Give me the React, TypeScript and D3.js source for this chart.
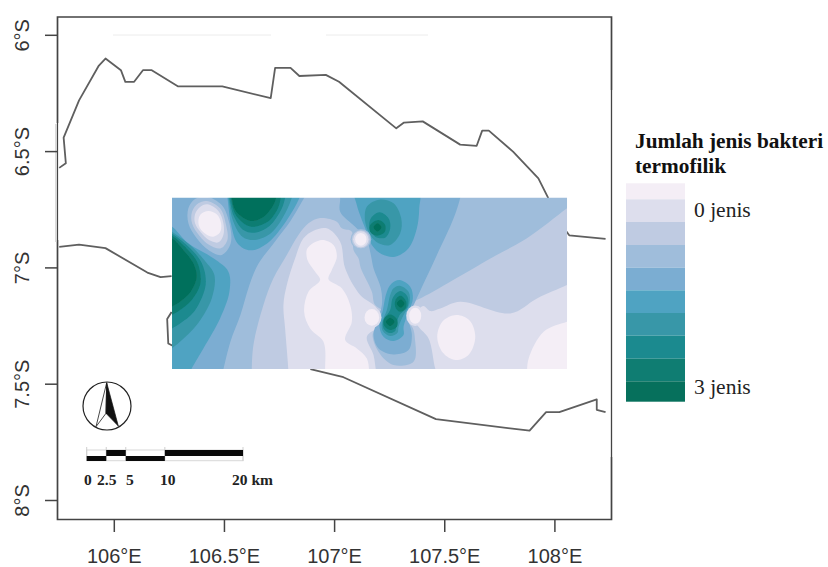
import React from "react";
import * as d3 from "d3";

type P = [number, number];

const lonTicks = [106, 106.5, 107, 107.5, 108];
const lonLabels = ["106°E", "106.5°E", "107°E", "107.5°E", "108°E"];
const latTicks = [6, 6.5, 7, 7.5, 8];
const latLabels = ["6°S", "6.5°S", "7°S", "7.5°S", "8°S"];

const northCoast: P[] = [
  [105.75, 6.57], [105.78, 6.55], [105.77, 6.44], [105.84, 6.28], [105.93, 6.13], [105.96, 6.1],
  [106.03, 6.15], [106.05, 6.2], [106.09, 6.2], [106.13, 6.15], [106.17, 6.15], [106.29, 6.22],
  [106.49, 6.22], [106.71, 6.27], [106.73, 6.14], [106.8, 6.14], [106.84, 6.175], [106.96, 6.17],
  [107.02, 6.2], [107.28, 6.4], [107.315, 6.375], [107.4, 6.37], [107.57, 6.47], [107.645, 6.475],
  [107.67, 6.41], [107.7, 6.41], [107.81, 6.5], [107.925, 6.615], [107.97, 6.7], [108.05, 6.84],
  [108.065, 6.86], [108.23, 6.875],
];
const southCoastWest: P[] = [
  [105.75, 6.91], [105.84, 6.9], [105.96, 6.915], [106.15, 7.02], [106.21, 7.04], [106.26, 7.035],
];
const southBump: P[] = [[106.26, 7.19], [106.24, 7.22], [106.245, 7.325], [106.265, 7.335]];
const southCoastEast: P[] = [
  [106.89, 7.435], [107.04, 7.47], [107.46, 7.65], [107.885, 7.7], [107.96, 7.62], [108.02, 7.62],
  [108.19, 7.565], [108.19, 7.61], [108.23, 7.62],
];

// The interpolated map is a raster of 1184 x 514 cells covering this lon/lat box.
const gridLon = [106.262, 108.055];
const gridLat = [6.698, 7.435];
const gridCols = 1184;
const gridRows = 514;

const bandColors = [
  "#f4eef6", "#dddeed", "#bfcbe2", "#9fbddb", "#7badd2",
  "#4fa3c2", "#3897a8", "#1b8a8f", "#0f7d72", "#06705c",
];

// Isolines, in grid cells. Each one bounds a patch of one colour band.
const pale2: P[] = [
  [239, 540], [239, 522], [244, 442], [274, 322], [304, 242], [344, 172], [379, 112], [409, 77], [444, 61], [494, 72],
  [509, 92], [539, 102], [544, 157], [559, 182], [566, 212], [599, 282], [609, 322], [650, 340], [734, 307], [764, 292],
  [964, 177], [1064, 122], [1184, 32], [1230, 0], [1230, 540],
];
const pale1West: P[] = [
  [349, 540], [349, 522], [339, 392], [334, 322], [344, 262], [369, 182], [394, 122], [424, 99], [464, 92], [504, 132],
  [519, 212], [564, 292], [614, 332], [622, 380], [584, 417], [604, 472], [614, 530], [620, 540],
];
const pale1East: P[] = [
  [800, 540], [789, 512], [769, 422], [739, 387], [725, 362], [740, 335], [754, 325], [774, 340], [804, 332], [864, 312],
  [1014, 347], [1094, 302], [1184, 262], [1230, 240], [1230, 540],
];
const pale0Centre: P[] = [
  [449, 127], [484, 142], [494, 177], [479, 217], [469, 245], [509, 272], [534, 322], [539, 372], [519, 427], [554, 452],
  [584, 482], [592, 530], [594, 540], [459, 540], [459, 514], [454, 432], [414, 392], [396, 342], [409, 282], [444, 247],
  [429, 222], [406, 187], [406, 152],
];
const pale0East: P[] = [
  [852, 352], [892, 368], [909, 417], [890, 470], [850, 487], [812, 465], [795, 417], [812, 370],
];
const pale0Corner: P[] = [[1230, 358], [1184, 372], [1114, 402], [1069, 482], [1064, 530], [1064, 545], [1230, 545]];
const knotRing3: P[] = [[604, 402], [619, 462], [664, 502], [724, 492], [729, 432], [714, 382]];
const blue4West: P[] = [
  [-30, -30], [400, -30], [400, -10], [385, 20], [355, 70], [310, 130], [258, 200], [232, 262], [205, 352], [175, 432],
  [150, 530], [145, 545], [-30, 545],
];
const blue4Wedge: P[] = [
  [499, -28], [504, 2], [504, 42], [549, 87], [582, 122], [596, 172], [604, 212], [626, 272], [629, 322], [614, 372],
  [604, 412], [619, 452], [664, 470], [709, 457], [719, 412], [709, 357], [729, 312], [794, 172], [844, 62], [864, 0],
  [869, -28],
];
const westDark: P[][] = [
  [[-20, 80], [0, 87], [49, 137], [124, 182], [169, 222], [172, 282], [144, 362], [94, 452], [59, 512], [50, 530], [-20, 530]],
  [[-20, 90], [0, 102], [54, 142], [99, 190], [127, 232], [119, 302], [74, 382], [24, 432], [0, 452], [-20, 470]],
  [[-20, 100], [0, 108], [44, 142], [84, 187], [99, 227], [99, 272], [66, 342], [24, 377], [0, 392], [-20, 405]],
  [[-20, 108], [0, 114], [39, 147], [72, 187], [84, 222], [84, 262], [59, 307], [24, 337], [0, 352], [-20, 365]],
  [[-20, 118], [0, 122], [34, 157], [64, 197], [74, 237], [56, 282], [24, 312], [0, 327], [-20, 340]],
];
const northDark: P[][] = [
  [[162, -20], [166, 0], [177, 80], [197, 138], [235, 158], [284, 138], [334, 82], [382, 0], [386, -20]],
  [[165, -20], [169, 0], [183, 70], [212, 118], [248, 127], [298, 105], [340, 45], [359, 0], [363, -20]],
  [[168, -20], [172, 0], [185, 55], [215, 98], [248, 105], [292, 85], [328, 35], [339, 0], [343, -20]],
  [[172, -20], [176, 0], [190, 50], [222, 82], [248, 87], [290, 70], [318, 30], [326, 0], [330, -20]],
  [[175, -20], [179, 0], [189, 37], [219, 64], [244, 70], [279, 54], [304, 22], [312, 0], [315, -20]],
];
const upperDark: P[][] = [
  [[549, -18], [554, 22], [579, 92], [599, 142], [629, 170], [669, 177], [709, 152], [734, 92], [741, 32], [739, -18]],
  [[622, 6], [664, 17], [687, 62], [684, 107], [654, 142], [619, 137], [594, 112], [579, 72], [584, 27]],
  [[622, 44], [649, 62], [654, 92], [639, 120], [609, 117], [592, 92], [596, 62]],
  [[619, 67], [639, 82], [637, 104], [614, 114], [594, 102], [594, 82]],
  [[616, 77], [628, 89], [616, 102], [604, 89]],
];
const knotDark5: P[] = [
  [682, 247], [714, 267], [722, 302], [709, 342], [694, 387], [694, 412], [664, 430], [634, 417], [622, 387], [632, 337],
  [644, 282], [659, 257],
];
const knotDark6: P[] = [
  [682, 264], [709, 282], [712, 317], [694, 352], [679, 387], [676, 405], [654, 415], [632, 400], [629, 377], [644, 337],
  [654, 292], [664, 272],
];
const knotDark7: P[] = [
  [684, 280], [706, 297], [706, 327], [682, 352], [672, 382], [669, 400], [652, 406], [634, 392], [634, 367], [654, 337],
  [662, 300],
];
const knotDark8North: P[] = [[686, 294], [702, 312], [699, 334], [682, 342], [669, 327], [671, 304]];
const knotDark8South: P[] = [[654, 350], [674, 364], [674, 387], [654, 397], [636, 384], [636, 362]];
const knotDark9North: P[] = [[686, 305], [697, 317], [686, 330], [674, 317]];
const knotDark9South: P[] = [[654, 360], [667, 372], [654, 385], [641, 372]];
const haloRings: P[][] = [
  [[104, -3], [149, 22], [172, 77], [176, 137], [149, 172], [109, 157], [74, 122], [49, 77], [49, 32], [69, 4]],
  [[104, 10], [144, 32], [162, 82], [166, 127], [146, 152], [112, 142], [82, 114], [60, 77], [60, 42], [79, 17]],
  [[106, 20], [139, 40], [154, 77], [154, 112], [139, 134], [112, 128], [86, 104], [69, 77], [69, 50], [84, 28]],
  [[109, 40], [134, 50], [147, 77], [144, 104], [124, 117], [102, 110], [84, 92], [79, 70], [86, 50]],
];
const haloBands = [3, 2, 1, 0];

// Small pale sites: grid cell, radius in cells, band
const siteCells: [number, number, number, number, number][] = [
  [566, 125, 31, 31, 3], [566, 125, 27, 27, 2], [566, 125, 23, 24, 1], [566, 125, 17, 19, 0],
  [599, 359, 29, 31, 1], [599, 359, 22, 25, 0],
  [729, 354, 27, 31, 1], [729, 354, 18, 24, 0],
];

const patches: { band: number; ring: P[] }[] = [
  { band: 2, ring: pale2 },
  { band: 1, ring: pale1West },
  { band: 1, ring: pale1East },
  { band: 0, ring: pale0Centre },
  { band: 0, ring: pale0East },
  { band: 0, ring: pale0Corner },
  { band: 3, ring: knotRing3 },
  { band: 4, ring: blue4West },
  { band: 4, ring: blue4Wedge },
  ...westDark.map((ring, i) => ({ band: 5 + i, ring })),
  ...northDark.map((ring, i) => ({ band: 5 + i, ring })),
  ...upperDark.map((ring, i) => ({ band: 5 + i, ring })),
  { band: 5, ring: knotDark5 },
  { band: 6, ring: knotDark6 },
  { band: 7, ring: knotDark7 },
  { band: 8, ring: knotDark8North },
  { band: 8, ring: knotDark8South },
  { band: 9, ring: knotDark9North },
  { band: 9, ring: knotDark9South },
  ...haloRings.map((ring, i) => ({ band: haloBands[i], ring })),
];

const legendEdges = [183.3, 199.3, 222, 245, 267.7, 290.3, 313, 335.7, 358.7, 381.3, 401.7];
const scaleStops = [0, 2.5, 5, 10, 20];
const scaleLabels = ["0", "2.5", "5", "10", "20 km"];
const scaleLabelX = [84, 97, 126, 160, 232];

const W = 828, H = 567;
const x = d3.scaleLinear().domain([106, 108]).range([114.3, 554.9]);
const y = d3.scaleLinear().domain([6, 8]).range([35.3, 500.5]);
const scaleX = d3.scaleLinear().domain([0, 20]).range([86.7, 243]);
const gu = d3.scaleLinear().domain([0, gridCols]).range([x(gridLon[0]), x(gridLon[1])]);
const gv = d3.scaleLinear().domain([0, gridRows]).range([y(gridLat[0]), y(gridLat[1])]);
const line = d3.line<P>().x((d) => x(d[0])).y((d) => y(d[1]));
const ringPath = d3
  .line<P>()
  .x((d) => gu(d[0]))
  .y((d) => gv(d[1]))
  .curve(d3.curveCatmullRomClosed.alpha(0.5));

const SANS = "'Liberation Sans', Arial, sans-serif";
const SERIF = "'Liberation Serif', 'Times New Roman', serif";
const AXIS = "#444";
const COAST = "#5f5f5f";

export default function App() {
  const rx0 = gu(0), rx1 = gu(gridCols), ry0 = gv(0), ry1 = gv(gridRows);
  const ku = (rx1 - rx0) / gridCols, kv = (ry1 - ry0) / gridRows;
  return (
    <svg width={W} height={H} style={{ position: "absolute", left: 0, top: 0, background: "#fff" }}>
      <defs>
        <clipPath id="gridClip">
          <rect x={rx0} y={ry0} width={rx1 - rx0} height={ry1 - ry0} />
        </clipPath>
        <filter id="soft" x="-5%" y="-5%" width="110%" height="110%">
          <feGaussianBlur stdDeviation="0.6" />
        </filter>
      </defs>

      <line x1={113} x2={271} y1={35} y2={35} stroke="#ececec" strokeWidth={1} />
      <line x1={326} x2={428} y1={35} y2={35} stroke="#ececec" strokeWidth={1} />

      <g fill="none" stroke={COAST} strokeWidth={1.8} strokeLinejoin="round">
        <path d={line(northCoast) || ""} />
        <path d={line(southCoastWest) || ""} />
        <path d={line(southBump) || ""} />
        <path d={line(southCoastEast) || ""} />
      </g>

      <g clipPath="url(#gridClip)">
        <g filter="url(#soft)">
          <rect x={rx0 - 4} y={ry0 - 4} width={rx1 - rx0 + 8} height={ry1 - ry0 + 8} fill={bandColors[3]} />
          {patches.map((p, i) => (
            <path key={i} d={ringPath(p.ring) || ""} fill={bandColors[p.band]} />
          ))}
          {siteCells.map((s, i) => (
            <ellipse key={i} cx={gu(s[0])} cy={gv(s[1])} rx={s[2] * ku} ry={s[3] * kv} fill={bandColors[s[4]]} />
          ))}
        </g>
      </g>

      <g fill="none" stroke={AXIS}>
        <path d="M57.5 123V17H611.5V90" strokeWidth={1.7} />
        <path d="M57.5 240V519.5H611.5V457" strokeWidth={1.7} />
        <path d="M611.5 90V457" strokeWidth={1.3} />
        <path d="M57.5 123V240" strokeWidth={1.2} />
        <path d="M56 124V242" stroke="#cfcfcf" strokeWidth={1.5} />
      </g>

      {lonTicks.map((t, i) => (
        <g key={t}>
          <line x1={x(t)} x2={x(t)} y1={519.5} y2={532} stroke={AXIS} strokeWidth={1.5} />
          <text x={x(t)} y={562.8} textAnchor="middle" fontFamily={SANS} fontSize={20} fill="#333">
            {lonLabels[i]}
          </text>
        </g>
      ))}
      {latTicks.map((t, i) => (
        <g key={t}>
          <line x1={45} x2={57} y1={y(t)} y2={y(t)} stroke={AXIS} strokeWidth={1.5} />
          <text
            transform={`translate(29,${y(t)}) rotate(-90)`}
            textAnchor="middle"
            fontFamily={SANS}
            fontSize={20}
            fill="#333"
          >
            {latLabels[i]}
          </text>
        </g>
      ))}

      <circle cx={107} cy={406} r={24} fill="none" stroke="#222" strokeWidth={1.2} />
      <path d="M106.7 382.7L96 426.7L106 413.3Z" fill="#fff" stroke="#333" strokeWidth={0.9} />
      <path d="M106.7 382.7L118.3 426L106 413.3Z" fill="#111" stroke="#111" strokeWidth={0.7} />

      <g>
        <rect x={scaleX(0)} y={450} width={scaleX(20) - scaleX(0)} height={10.7} fill="none" stroke="#d8d8d8" />
        {scaleStops.map((s) => (
          <line key={s} x1={scaleX(s)} x2={scaleX(s)} y1={447} y2={461} stroke="#cfcfcf" />
        ))}
        {scaleStops.slice(0, -1).map((s, i) => (
          <rect
            key={s}
            x={scaleX(s)}
            y={i % 2 === 0 ? 456 : 450}
            width={scaleX(scaleStops[i + 1]) - scaleX(s)}
            height={i % 2 === 0 ? 5 : 6}
            fill="#0a0a0a"
          />
        ))}
        {scaleLabels.map((l, i) => (
          <text key={l} x={scaleLabelX[i]} y={485} fontFamily={SERIF} fontWeight="bold" fontSize={15.5} fill="#222">
            {l}
          </text>
        ))}
      </g>

      <text x={635} y={148} fontFamily={SERIF} fontWeight="bold" fontSize={21.3} fill="#111">
        Jumlah jenis bakteri
      </text>
      <text x={635} y={173} fontFamily={SERIF} fontWeight="bold" fontSize={21.3} fill="#111">
        termofilik
      </text>
      {bandColors.map((c, i) => (
        <rect key={c} x={626} y={legendEdges[i]} width={59} height={legendEdges[i + 1] - legendEdges[i]} fill={c} />
      ))}
      <text x={694} y={216.7} fontFamily={SERIF} fontSize={21.5} fill="#222">
        0 jenis
      </text>
      <text x={694} y={394} fontFamily={SERIF} fontSize={21.5} fill="#222">
        3 jenis
      </text>
    </svg>
  );
}
